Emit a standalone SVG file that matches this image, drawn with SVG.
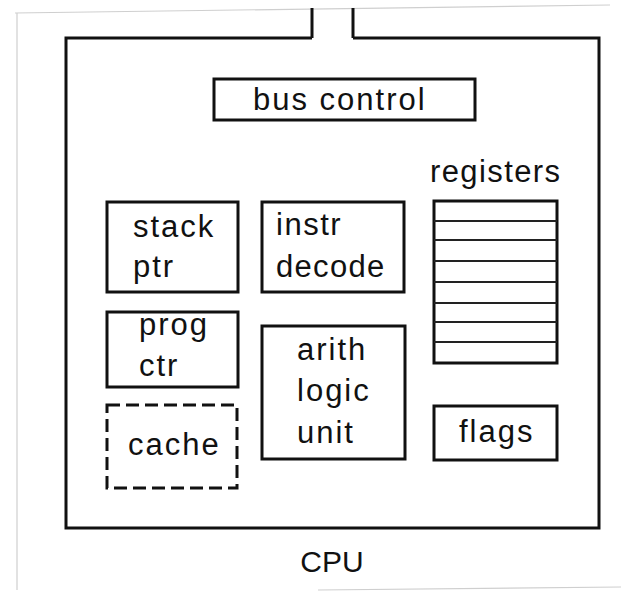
<svg xmlns="http://www.w3.org/2000/svg" width="621" height="592" viewBox="0 0 621 592">
  <style>
    .box { fill: none; stroke: #111; stroke-width: 3; }
    .dashed { stroke-dasharray: 13 6; }
    .row { stroke: #222; stroke-width: 2; }
    .edge { stroke: #cfcfcf; stroke-width: 1.2; fill: none; }
    text { font-family: "Liberation Sans", Arial, sans-serif; font-size: 31px; fill: #111; letter-spacing: 2px; }
    .mid { text-anchor: middle; }
  </style>
  <rect width="621" height="592" fill="#fff"/>

  <!-- paper edges -->
  <g id="paper">
    <path class="edge" d="M15 13 L610 5"/>
    <path class="edge" d="M17 13 L17 590"/>
    <path class="edge" d="M318 590 L621 587"/>
  </g>

  <!-- CPU enclosure and bus entry -->
  <g id="cpu">
    <path class="box" d="M312 38 L66 38 L66 528 L599 528 L599 38 L353 38"/>
    <text x="332" y="572" class="mid" style="letter-spacing:0;font-size:30px">CPU</text>
  </g>

  <g id="connectors">
    <path class="box" d="M312 8 L312 38"/>
    <path class="box" d="M353 8 L353 38"/>
  </g>

  <g id="bus-control">
    <rect class="box" x="214" y="79" width="261" height="41"/>
    <text x="253" y="110">bus control</text>
  </g>

  <g id="stack-ptr">
    <rect class="box" x="107" y="202" width="131" height="90"/>
    <text x="133" y="237">stack</text>
    <text x="133" y="277">ptr</text>
  </g>

  <g id="instr-decode">
    <rect class="box" x="262" y="202" width="142" height="90"/>
    <text x="276" y="235" style="letter-spacing:1.5px">instr</text>
    <text x="276" y="277" style="letter-spacing:1.3px">decode</text>
  </g>

  <g id="prog-ctr">
    <rect class="box" x="107" y="312" width="131" height="75"/>
    <text x="139" y="335">prog</text>
    <text x="139" y="376">ctr</text>
  </g>

  <g id="cache">
    <rect class="box dashed" x="107" y="405" width="130" height="83"/>
    <text x="128" y="455">cache</text>
  </g>

  <g id="alu">
    <rect class="box" x="262" y="326" width="143" height="133"/>
    <text x="297" y="360">arith</text>
    <text x="297" y="401">logic</text>
    <text x="297" y="443">unit</text>
  </g>

  <g id="registers">
    <text x="430" y="182" style="letter-spacing:1.4px">registers</text>
    <rect class="box" x="434" y="201" width="123" height="162"/>
    <path class="row" d="M434 221H557 M434 240H557 M434 261H557 M434 282H557 M434 303H557 M434 322H557 M434 342H557"/>
  </g>

  <g id="flags">
    <rect class="box" x="434" y="406" width="123" height="54"/>
    <text x="459" y="442">flags</text>
  </g>
</svg>
